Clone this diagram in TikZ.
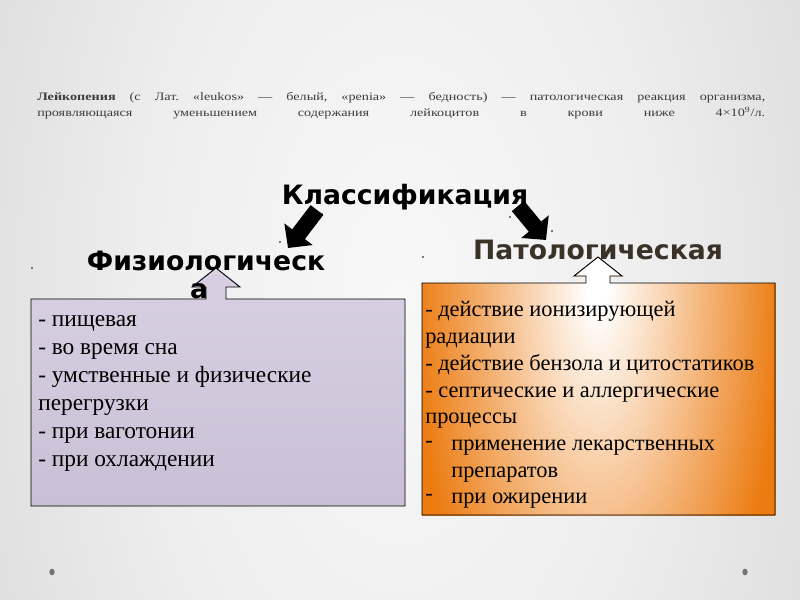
\documentclass[tikz,border=0pt]{standalone}
\usepackage{fontspec}
\usepackage{graphicx}
\setmainfont{Liberation Serif}
\newfontfamily\headfont{DejaVu Sans}
\usetikzlibrary{arrows.meta,shapes.geometric}
\definecolor{bgedge}{HTML}{D6D6D6}
\definecolor{bgmid}{HTML}{EEEEEE}
\definecolor{bgcen}{HTML}{F8F8F8}
\definecolor{lavtop}{HTML}{D8D0E2}
\definecolor{lavmid}{HTML}{F3F1F6}
\definecolor{lavbot}{HTML}{C9C0D6}
\definecolor{orng}{HTML}{EC7C12}
\definecolor{pathtext}{HTML}{3A3226}
\definecolor{paratext}{HTML}{3C3C3C}
\pgfdeclareradialshading{bgshade}{\pgfpoint{0bp}{0bp}}{color(0bp)=(bgcen); color(14bp)=(bgmid); color(31bp)=(bgedge); color(50bp)=(bgedge)}
\tikzset{
  heading/.style={font=\headfont\bfseries\fontsize{20}{23}\selectfont, inner sep=0pt, anchor=base},
  leftline/.style={font=\fontsize{17.5}{21}\selectfont, inner sep=0pt, anchor=base west, text=black},
  rightline/.style={font=\fontsize{16.8}{20}\selectfont, inner sep=0pt, anchor=base west, text=black},
  paraline/.style={font=\fontsize{8.5}{10}\selectfont, inner sep=0pt, anchor=base west, text=paratext},
  blockarrow/.style={line width=12pt, line cap=butt, -{Triangle[length=13pt,width=26pt]}, black},
  specks/.style={fill=black, inner sep=0pt, minimum size=1.2pt, circle},
  slidedot/.style={fill=gray!90!black, inner sep=0pt, minimum width=4pt, minimum height=5pt, ellipse}
}
\newcommand{\paraline}[1]{\scalebox{1.25}[1]{\frenchspacing\makebox[436.8pt][s]{#1}}}
\begin{document}
\begin{tikzpicture}[x=0.75pt,y=-0.75pt]
\useasboundingbox (0,0) rectangle (800,600);
% background
\begin{scope}
\clip (0,0) rectangle (800,600);
\shade[shading=bgshade] (-50,-500) rectangle (850,1100);
\end{scope}

% top paragraph
\node[paraline] (p1) at (37,100) {\paraline{\textbf{Лейкопения} (с Лат. «leukos» — белый, «penia» — бедность) — патологическая реакция организма,}};
\node[paraline] (p2) at (37,116) {\paraline{проявляющаяся уменьшением содержания лейкоцитов в крови ниже 4×10\textsuperscript{9}/л.}};

% headings
\node[heading] (klass) at (405,204) {Классификация};
\node[heading] (fiz1) at (206,270) {Физиологическ};
\node[heading, text=pathtext] (pat) at (598,259) {Патологическая};

% black block arrows
\coordinate (la1) at (317,210);
\coordinate (la2) at (288,248);
\coordinate (ra1) at (518,206);
\coordinate (ra2) at (546,240);
\draw[blockarrow] (la1) -- (la2);
\draw[blockarrow] (ra1) -- (ra2);

% tiny specks
\node[specks] (s1) at (322,214) {};
\node[specks] (s2) at (280,242) {};
\node[specks] (s3) at (510,217) {};
\node[specks] (s4) at (552,231) {};
\node[specks] (s5) at (423,257) {};
\node[specks] (s6) at (32,268) {};

% left box with arrow
\shade[draw=black, line width=0.7pt, top color=lavtop, middle color=lavmid, bottom color=lavbot]
  (31,299) -- (206,299) -- (206,287) -- (192,287) -- (216,268) -- (240,287) -- (226,287) -- (226,299)
  -- (405,299) -- (405,506) -- (31,506) -- cycle;
\node[heading] (fiz2) at (199,298) {а};

% right box with arrow (elliptic orange-to-white gradient)
\begin{scope}
\clip (422,283) -- (586,283) -- (586,276) -- (574,276) -- (598,257) -- (622,276) -- (610,276) -- (610,283)
  -- (775,283) -- (775,515) -- (422,515) -- cycle;
\fill[orng] (420,250) rectangle (777,517);
\foreach \i in {60,59,...,1}{
  \pgfmathsetmacro\dd{\i/60}
  \pgfmathsetmacro\pp{min(100,max(0,(\dd-0.05)/0.72*100))}
  \fill[orng!\pp!white] (598,283) ellipse [x radius=240*\dd, y radius=600*\dd];
}
\end{scope}
\draw[black, line width=0.7pt]
  (422,283) -- (586,283) -- (586,276) -- (574,276) -- (598,257) -- (622,276) -- (610,276) -- (610,283)
  -- (775,283) -- (775,515) -- (422,515) -- cycle;

% left box text
\node[leftline] (l1) at (38,326) {- пищевая};
\node[leftline] (l2) at (38,354) {- во время сна};
\node[leftline] (l3) at (38,382) {- умственные и физические};
\node[leftline] (l4) at (38,410) {перегрузки};
\node[leftline] (l5) at (38,438) {- при ваготонии};
\node[leftline] (l6) at (38,466) {- при охлаждении};

% right box text
\node[rightline] (r1) at (425,316) {- действие ионизирующей};
\node[rightline] (r2) at (425,343) {радиации};
\node[rightline] (r3) at (425,370) {- действие бензола и цитостатиков};
\node[rightline] (r4) at (425,397) {- септические и аллергические};
\node[rightline] (r5) at (425,423) {процессы};
\node[rightline] (r6b) at (425,447) {-};
\node[rightline] (r6) at (451,450) {применение лекарственных};
\node[rightline] (r7) at (451,477) {препаратов};
\node[rightline] (r8b) at (425,500) {-};
\node[rightline] (r8) at (451,503) {при ожирении};

% slide dots
\node[slidedot] (d1) at (52,572) {};
\node[slidedot] (d2) at (745,572) {};
\end{tikzpicture}
\end{document}
